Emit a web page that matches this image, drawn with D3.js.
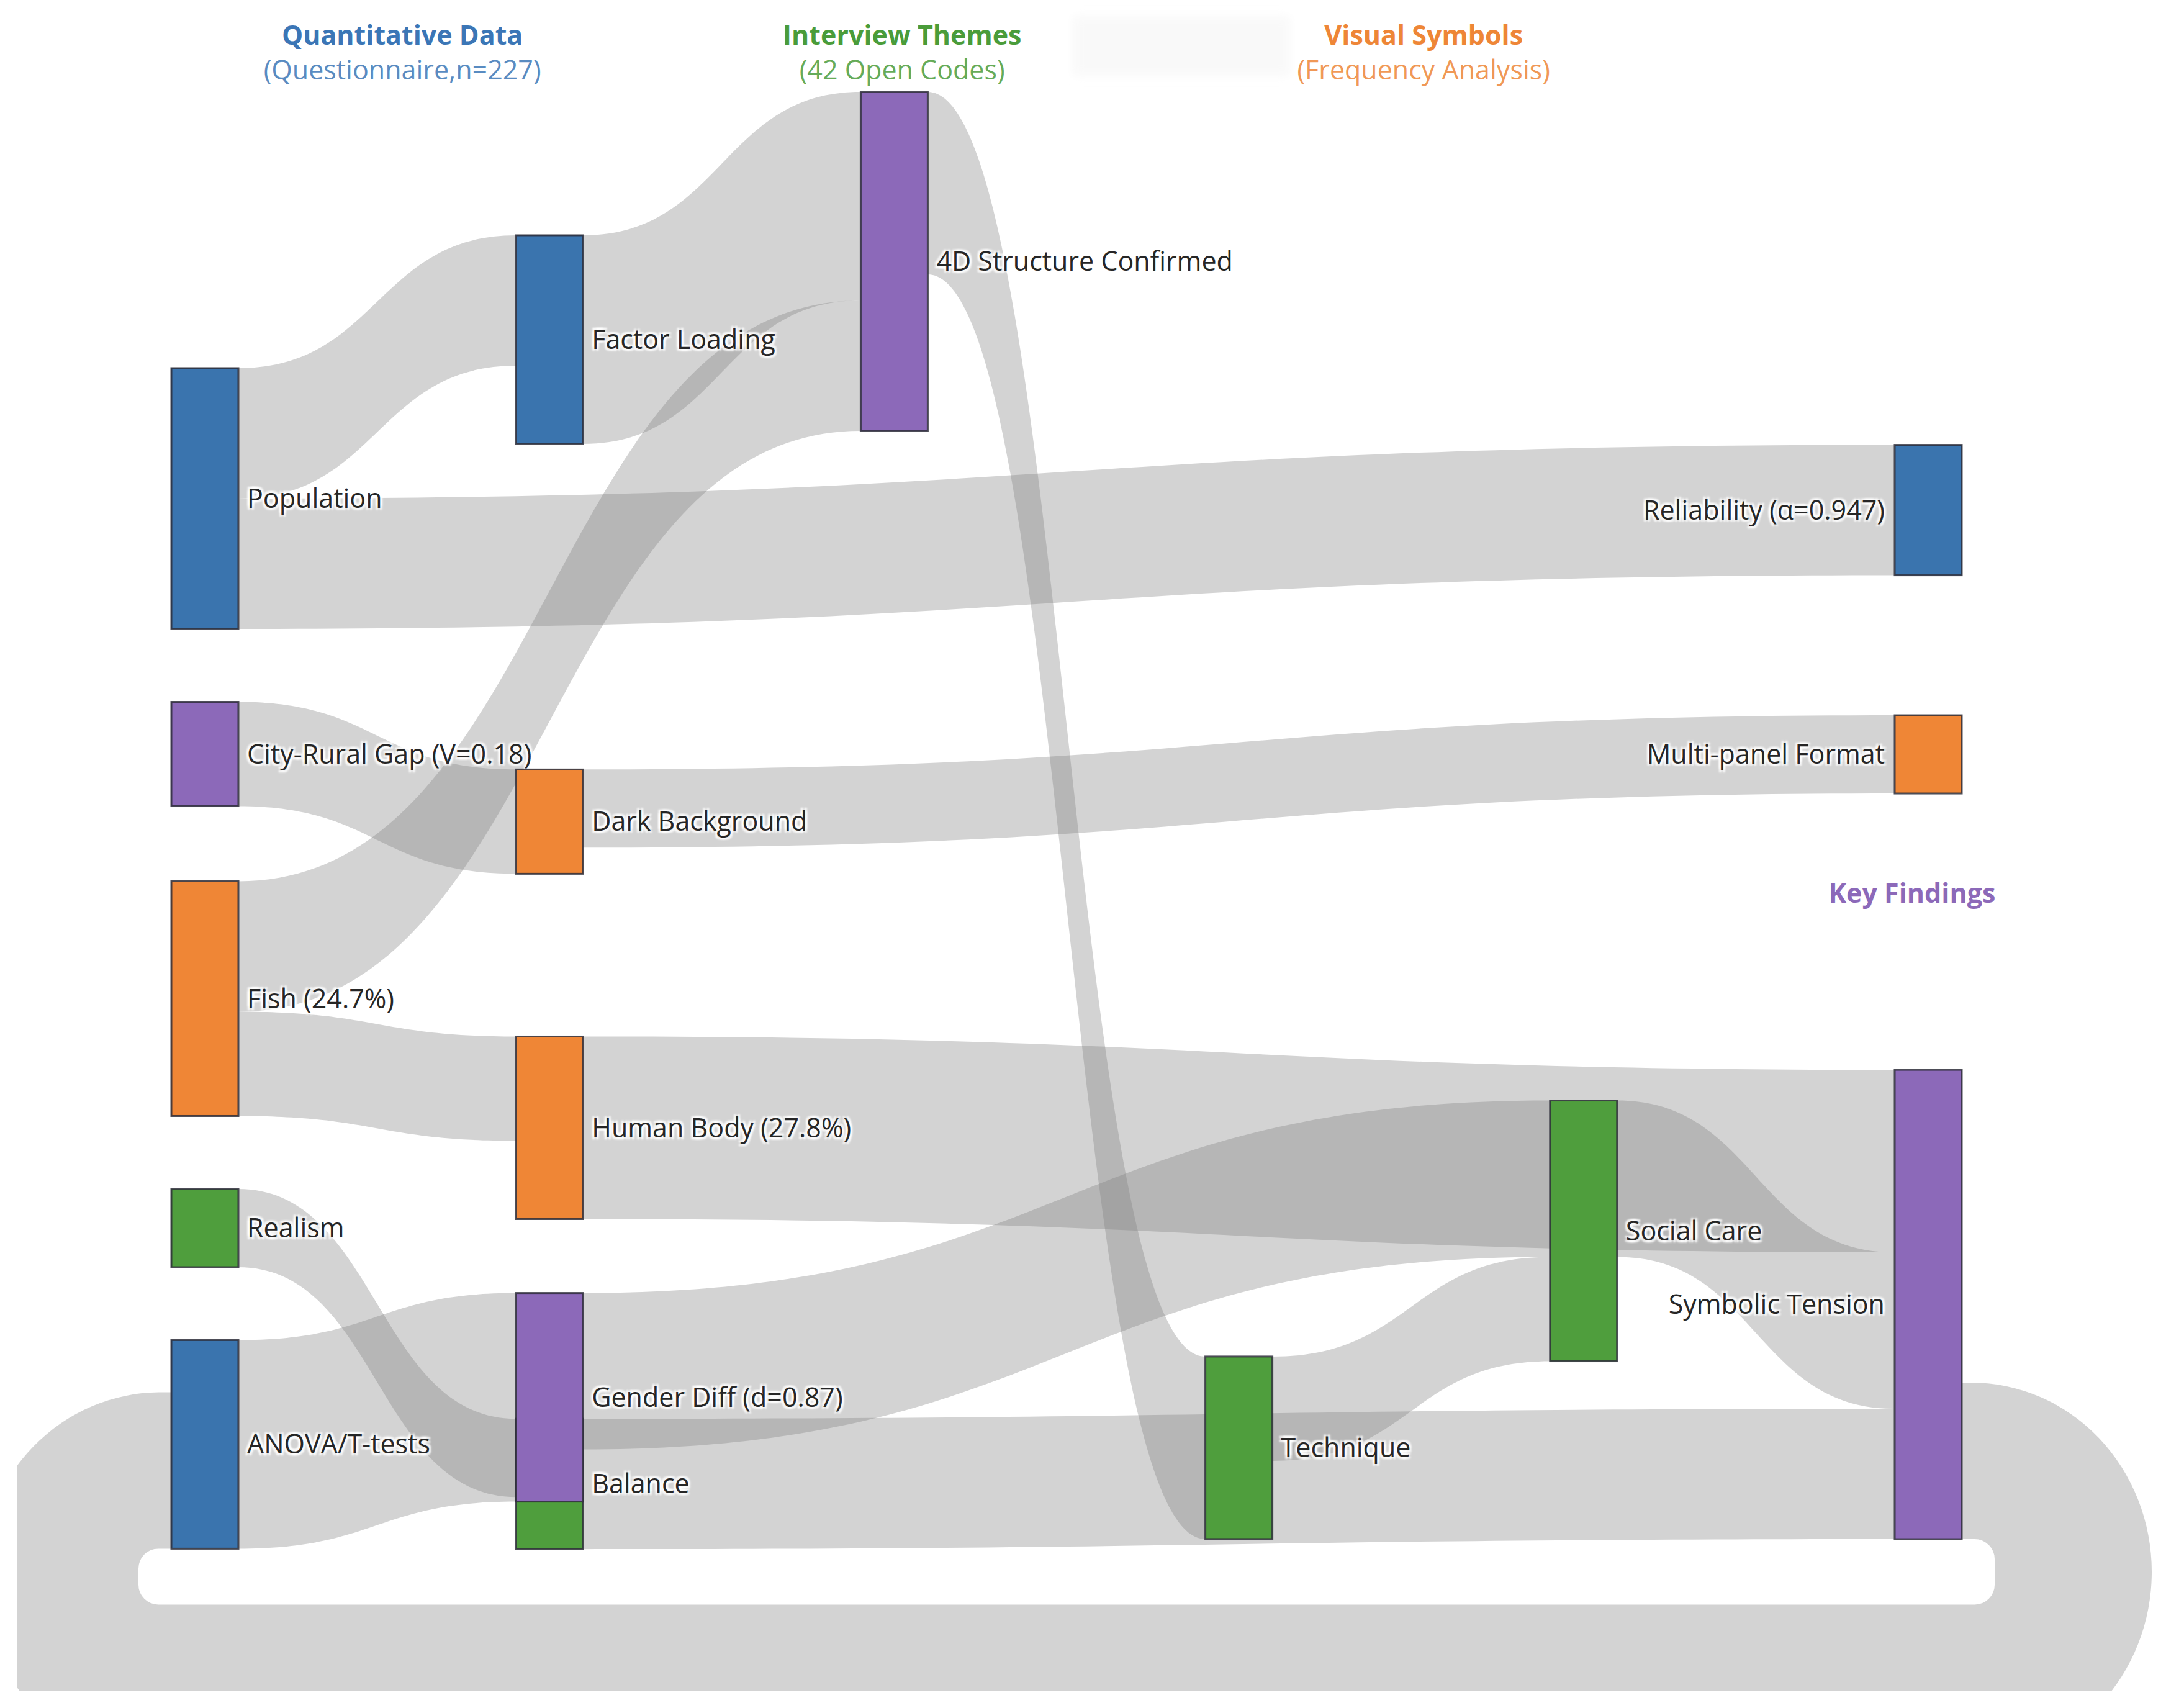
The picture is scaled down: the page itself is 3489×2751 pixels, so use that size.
<!DOCTYPE html>
<html>
<head>
<meta charset="utf-8">
<script src="https://cdn.jsdelivr.net/npm/d3@7"></script>
<style>
  html, body { margin: 0; padding: 0; background: #ffffff; }
  svg { display: block; }
  .nlabel { font-family: "Open Sans", "DejaVu Sans", sans-serif; font-size: 43px; fill: #262626;
            text-shadow: 3px 3px 3px #fff, -3px -3px 3px #fff, 3px -3px 3px #fff, -3px 3px 3px #fff; }
  .head { font-family: "Open Sans", "DejaVu Sans", sans-serif; font-size: 43px; text-anchor: middle; }
</style>
</head>
<body>
<script>
// ---------------- data ----------------
const nodeLabels = [
  "Population", "City-Rural Gap (V=0.18)", "Fish (24.7%)", "Realism", "ANOVA/T-tests",
  "Factor Loading", "Dark Background", "Human Body (27.8%)", "Balance", "Gender Diff (d=0.87)",
  "4D Structure Confirmed", "Technique", "Social Care",
  "Reliability (α=0.947)", "Multi-panel Format", "Symbolic Tension"
];
const nodeCategory = [
  "quant", "finding", "symbol", "theme", "quant",
  "quant", "symbol", "symbol", "theme", "finding",
  "finding", "theme", "theme",
  "quant", "symbol", "finding"
];
// plotly-style node arrangement: column index and normalised vertical centre
const nodeColumn = [0, 0, 0, 0, 0, 1, 1, 1, 1, 1, 2, 3, 4, 5, 5, 5];
const nodeYPos = [0.268, 0.4249, 0.5751, 0.716, 0.8488,
                  0.1704, 0.4664, 0.6544, 0.8731, 0.8199,
                  0.1224, 0.8509, 0.7177,
                  0.2751, 0.4251, 0.7629];

const linkSource = [0, 0, 1, 2, 2, 3, 4, 5, 6, 7, 9, 8, 10, 11, 12, 15];
const linkTarget = [5, 13, 6, 10, 7, 8, 9, 10, 14, 15, 12, 15, 11, 12, 15, 4];
const linkValue  = [50, 50, 40, 50, 40, 30, 80, 80, 30, 70, 60, 50, 70, 40, 60, 60];

const columnHeaders = [
  { title: "Quantitative Data", sub: "(Questionnaire,n=227)", cat: "quant", col: 0.573 },
  { title: "Interview Themes", sub: "(42 Open Codes)", cat: "theme", col: 2.023 },
  { title: "Visual Symbols", sub: "(Frequency Analysis)", cat: "symbol", col: 3.536 }
];
const keyFindingsLabel = "Key Findings";

// ---------------- styles / layout ----------------
const W = 3489, H = 2751;
const colors = { quant: "#3a74ae", theme: "#4f9e3d", symbol: "#ef8636", finding: "#8c69b9" };
const headColors = { quant: "#3b76b6", theme: "#4a9c3a", symbol: "#ee8637", finding: "#8c69b9" };
const plot = { left: 27, right: 3462, top: 100, bottom: 2723 };
const nodeW = 108;
const linkFill = "rgba(128,128,128,0.345)";

const xCol = d3.scaleLinear().domain([0, 5]).range([276, 3052]);
const yPos = d3.scaleLinear().domain([0, 1]).range([plot.top, plot.bottom]);
const kV = d3.scaleLinear().domain([0, 100]).range([0, 420]);

const svg = d3.select("body").append("svg").attr("width", W).attr("height", H)
  .attr("viewBox", `0 0 ${W} ${H}`);

const defs = svg.append("defs");
defs.append("clipPath").attr("id", "plotclip").append("rect")
  .attr("x", plot.left).attr("y", 0).attr("width", plot.right + 40 - plot.left).attr("height", plot.bottom);
const blur = defs.append("filter").attr("id", "soft").attr("x", "-20%").attr("y", "-40%").attr("width", "140%").attr("height", "180%");
blur.append("feGaussianBlur").attr("stdDeviation", 8);

// faint box near the top (annotation background)
svg.append("rect").attr("x", 1728).attr("y", 26).attr("width", 350).attr("height", 96)
  .attr("fill", "#f9f9f9").attr("filter", "url(#soft)");

// ---------------- build graph ----------------
const nodes = nodeLabels.map((name, i) => ({
  i, name, cat: nodeCategory[i], col: nodeColumn[i], yc: yPos(nodeYPos[i]),
  inLinks: [], outLinks: []
}));
const links = linkSource.map((s, k) => ({
  k, source: nodes[s], target: nodes[linkTarget[k]], value: linkValue[k]
}));
links.forEach(l => {
  l.circular = l.target.col <= l.source.col;
  l.width = kV(l.value);
  l.source.outLinks.push(l); l.target.inLinks.push(l);
});
nodes.forEach(n => {
  const vin = d3.sum(n.inLinks, l => l.value), vout = d3.sum(n.outLinks, l => l.value);
  n.h = kV(Math.max(vin, vout));
  n.x0 = xCol(n.col); n.x1 = n.x0 + nodeW;
  n.y0 = n.yc - n.h / 2; n.y1 = n.yc + n.h / 2;
});
nodes.forEach(n => {
  let y = n.y0;
  n.outLinks.filter(l => !l.circular).sort((a, b) => a.target.yc - b.target.yc)
    .forEach(l => { l.sy0 = y; y += l.width; l.sy1 = y; });
  y = n.y1;
  n.outLinks.filter(l => l.circular).forEach(l => { l.sy1 = y; y -= l.width; l.sy0 = y; });
  y = n.y0;
  n.inLinks.filter(l => !l.circular).sort((a, b) => a.source.yc - b.source.yc)
    .forEach(l => { l.ty0 = y; y += l.width; l.ty1 = y; });
  y = n.y1;
  n.inLinks.filter(l => l.circular).forEach(l => { l.ty1 = y; y -= l.width; l.ty0 = y; });
});

function bandPath(l) {
  const x0 = l.source.x1, x1 = l.target.x0;
  const xi = d3.interpolateNumber(x0, x1), xa = xi(0.5), xb = xi(0.5);
  return `M${x0},${l.sy0}C${xa},${l.sy0} ${xb},${l.ty0} ${x1},${l.ty0}` +
         `L${x1},${l.ty1}C${xb},${l.ty1} ${xa},${l.sy1} ${x0},${l.sy1}Z`;
}
function loopPath(l) {
  const xs = l.source.x1, xt = l.target.x0;
  const gap = 53, r = 32, rx = 290, depth = 90;
  const hB = Math.max(l.sy1, l.ty1) + depth;
  const oB = hB + l.width;
  const cxR = xs + 16, cxL = xt - 17;
  const ryR = (oB - l.sy0) / 2, ryL = (oB - l.ty0) / 2;
  const hxR = xs + gap, hxL = xt - gap;
  return [
    `M${xs},${l.sy0}`, `L${cxR},${l.sy0}`,
    `A${rx},${ryR} 0 0 1 ${cxR},${oB}`,
    `L${cxL},${oB}`,
    `A${rx},${ryL} 0 0 1 ${cxL},${l.ty0}`,
    `L${xt},${l.ty0}`, `L${xt},${l.ty1}`,
    `L${hxL + r},${l.ty1}`, `A${r},${r} 0 0 0 ${hxL},${l.ty1 + r}`,
    `L${hxL},${hB - r}`, `A${r},${r} 0 0 0 ${hxL + r},${hB}`,
    `L${hxR - r},${hB}`, `A${r},${r} 0 0 0 ${hxR},${hB - r}`,
    `L${hxR},${l.sy1 + r}`, `A${r},${r} 0 0 0 ${hxR - r},${l.sy1}`,
    `L${xs},${l.sy1}`, "Z"
  ].join("");
}

// ---------------- draw ----------------
const gLinks = svg.append("g").attr("clip-path", "url(#plotclip)");
gLinks.selectAll("path").data(links).join("path")
  .attr("d", d => d.circular ? loopPath(d) : bandPath(d))
  .attr("fill", linkFill);

const gNodes = svg.append("g");
const ng = gNodes.selectAll("g").data(nodes).join("g");
ng.append("rect")
  .attr("x", d => d.x0).attr("y", d => d.y0)
  .attr("width", nodeW).attr("height", d => d.h)
  .attr("fill", d => colors[d.cat])
  .attr("stroke", "#2e2e3a").attr("stroke-width", 3).attr("stroke-opacity", 0.85);
ng.append("text").attr("class", "nlabel")
  .attr("x", d => d.col === 5 ? d.x0 - 16 : d.x1 + 14)
  .attr("y", d => d.yc).attr("dy", "0.35em")
  .attr("text-anchor", d => d.col === 5 ? "end" : "start")
  .text(d => d.name);

// column headers
const colCenter = d3.scaleLinear().domain([0, 5]).range([276 + nodeW / 2, 3052 + nodeW / 2]);
const gh = svg.append("g");
columnHeaders.forEach(h => {
  const x = colCenter(h.col);
  gh.append("text").attr("class", "head").attr("x", x).attr("y", 72)
    .attr("font-weight", 700).attr("fill", headColors[h.cat]).text(h.title);
  gh.append("text").attr("class", "head").attr("x", x).attr("y", 128)
    .attr("fill", headColors[h.cat]).attr("fill-opacity", 0.85).text(h.sub);
});
gh.append("text").attr("class", "head").attr("x", colCenter(4.953)).attr("y", 1454)
  .attr("font-weight", 700).attr("fill", headColors.finding).text(keyFindingsLabel);
</script>
</body>
</html>
